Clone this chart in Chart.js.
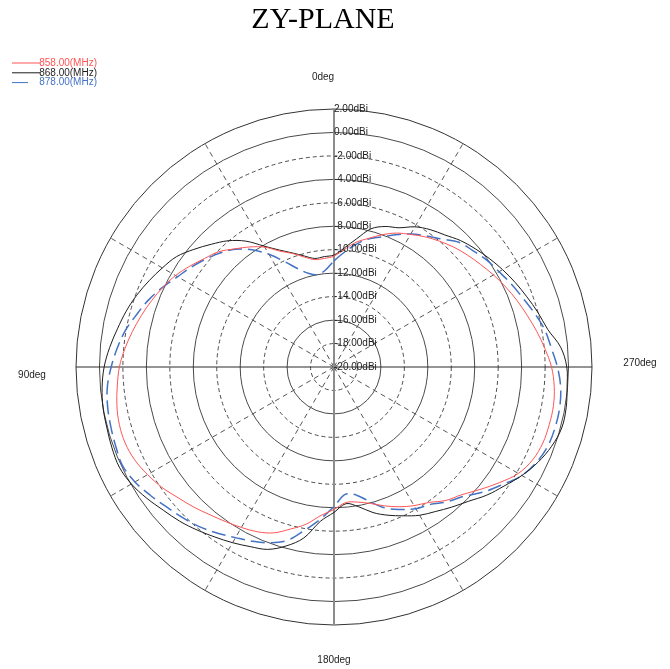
<!DOCTYPE html>
<html>
<head>
<meta charset="utf-8">
<title>ZY-PLANE</title>
<script src="https://cdn.jsdelivr.net/npm/chart.js@4/dist/chart.umd.min.js"></script>
<style>
  html, body { margin: 0; padding: 0; background: #fff; }
  canvas { display: block; }
</style>
</head>
<body>
<canvas id="draw" width="670" height="669"></canvas>
<script>
const chartTitle = "ZY-PLANE";

// angles of the plot, counter-clockwise from the top (0deg up, 90deg left)
const angleDeg = [0, 5, 10, 15, 20, 25, 30, 35, 40, 45, 50, 55, 60, 65, 70, 75, 80, 85,
	90, 95, 100, 105, 110, 115, 120, 125, 130, 135, 140, 145, 150, 155, 160, 165, 170, 175,
	180, 185, 190, 195, 200, 205, 210, 215, 220, 225, 230, 235, 240, 245, 250, 255, 260, 265,
	270, 275, 280, 285, 290, 295, 300, 305, 310, 315, 320, 325, 330, 335, 340, 345, 350, 355];

const seriesLabels = ["858.00(MHz)", "868.00(MHz)", "878.00(MHz)"];

// gain in dBi, one value per angle above
const gain858 = [-10.55, -10.7, -10.7, -10.3, -9.7, -9.1, -8.2, -7.5, -6.85, -6.1, -5.6, -5.0,
	-4.4, -3.9, -3.45, -3.0, -2.55, -2.1, -1.7, -1.45, -1.2, -1.05, -1.05, -1.25,
	-1.65, -2.1, -2.65, -3.1, -3.55, -3.9, -4.2, -4.5, -4.95, -5.7, -6.4, -7.3,
	-7.85, -8.4, -8.3, -7.95, -7.4, -6.85, -6.35, -5.9, -5.15, -4.6, -3.75, -2.8,
	-1.85, -1.3, -1.05, -1.0, -1.0, -1.15, -1.45, -1.95, -2.45, -2.95, -3.4, -3.85,
	-4.3, -4.75, -5.15, -5.55, -6.0, -6.45, -6.95, -7.4, -8.0, -8.65, -9.2, -9.95];

const gain868 = [-10.45, -10.55, -10.6, -10.2, -9.65, -9.0, -8.1, -6.9, -5.95, -5.2, -4.4, -3.6,
	-3.1, -2.6, -2.1, -1.65, -1.25, -0.8, -0.4, -0.15, 0.0, 0.05, 0.15, 0.2,
	-0.05, -0.5, -1.0, -1.4, -1.85, -2.3, -2.7, -3.1, -3.45, -4.2, -5.2, -6.8,
	-7.6, -8.3, -7.9, -7.15, -6.55, -6.0, -5.4, -4.95, -4.4, -3.8, -3.0, -2.3,
	-1.5, -0.8, -0.25, 0.1, 0.1, -0.05, -0.15, -0.6, -1.5, -2.0, -2.5, -2.95,
	-3.4, -3.85, -4.3, -4.75, -5.3, -5.7, -6.2, -6.9, -7.25, -7.8, -8.9, -9.8];

const gain878 = [-10.95, -11.7, -12.0, -11.75, -11.1, -10.1, -8.9, -7.8, -6.9, -6.25, -5.7, -5.15,
	-4.6, -3.9, -3.2, -2.6, -1.95, -1.45, -1.0, -0.6, -0.4, -0.3, -0.2, -0.1,
	-0.4, -0.9, -1.4, -1.8, -2.2, -2.7, -3.2, -3.6, -4.05, -4.7, -5.9, -7.0,
	-8.1, -9.1, -8.9, -8.1, -7.2, -6.6, -6.05, -5.7, -5.0, -4.4, -3.4, -2.5,
	-1.5, -0.9, -0.55, -0.45, -0.45, -0.6, -0.95, -1.4, -1.75, -2.3, -2.85, -3.3,
	-3.75, -4.1, -4.55, -4.95, -5.75, -6.35, -6.9, -7.55, -8.2, -8.7, -9.4, -10.2];

// radial axis
const gainMin = -20;
const gainMax = 2;
const gainStep = 2;
const ringLabels = [2, 0, -2, -4, -6, -8, -10, -12, -14, -16, -18, -20];
const dashedRings = [-2, -6, -10, -14, -18];
const directionLabels = ["0deg", "90deg", "180deg", "270deg"];

// radar runs clockwise, this plot runs counter-clockwise: index i -> angle (360 - i*5)
const n = angleDeg.length;
function angleAt(i) {
	return angleDeg[(n - i) % n];
}
function toRadar(series) {
	return angleDeg.map((a, i) => series[(n - i) % n]);
}

const colors = ["#ff5454", "#1c1c1c", "#4472c4"];
const dashes = [[], [], [14, 6]];
const gains = [gain858, gain868, gain878];

const datasets = seriesLabels.map((label, k) => ({
	label: label,
	data: toRadar(gains[k]),
	borderColor: colors[k],
	backgroundColor: "transparent",
	borderWidth: k === 2 ? 1.5 : 1,
	borderDash: dashes[k],
	fill: false,
	pointRadius: 0,
	pointHitRadius: 0,
	tension: 0.35,
}));

// title, legend, ring and direction labels
const polarText = {
	id: "polarText",
	afterDraw(chart) {
		const ctx = chart.ctx;
		const r = chart.scales.r;
		const cx = r.xCenter;
		const cy = r.yCenter;
		const R = r.drawingArea;
		ctx.save();

		ctx.fillStyle = "#000";
		ctx.font = '30px "Liberation Serif", "Times New Roman", serif';
		ctx.textAlign = "center";
		ctx.textBaseline = "alphabetic";
		ctx.fillText(chartTitle, 323, 28);

		ctx.font = '10px "Liberation Sans", Arial, sans-serif';
		ctx.textBaseline = "middle";
		ctx.fillStyle = "#222";
		ctx.textAlign = "left";
		ringLabels.forEach((v) => {
			const d = r.getDistanceFromCenterForValue(v);
			ctx.fillText(v.toFixed(2) + "dBi", cx, cy - d);
		});

		ctx.textAlign = "center";
		ctx.fillText(directionLabels[0], cx - 11, cy - R - 32);
		ctx.fillText(directionLabels[1], cx - R - 44, cy + 8);
		ctx.fillText(directionLabels[2], cx, cy + R + 35);
		ctx.fillText(directionLabels[3], cx + R + 48, cy - 4);

		// legend
		chart.data.datasets.forEach((ds, k) => {
			const y = 63 + k * 9.8;
			ctx.strokeStyle = ds.borderColor;
			ctx.lineWidth = 1;
			ctx.setLineDash(k === 2 ? [16, 8] : []);
			ctx.beginPath();
			ctx.moveTo(12, y);
			ctx.lineTo(k === 2 ? 36 : 40, y);
			ctx.stroke();
			ctx.fillStyle = ds.borderColor;
			ctx.textAlign = "right";
			ctx.fillText(ds.label, 97, y);
		});
		ctx.restore();
	},
};

const config = {
	type: "radar",
	data: {
		labels: angleDeg.map((a, i) => angleAt(i) + "deg"),
		datasets: datasets,
	},
	options: {
		responsive: false,
		animation: false,
		layout: {
			padding: { left: 76, right: 78, top: 109, bottom: 44 },
		},
		plugins: {
			legend: { display: false },
			title: { display: false },
			tooltip: { enabled: false },
		},
		scales: {
			r: {
				min: gainMin,
				max: gainMax,
				startAngle: 0,
				ticks: { display: false, stepSize: gainStep },
				pointLabels: { display: false },
				grid: {
					circular: true,
					color: (c) => (c.tick && c.tick.value === gainMax ? "#333" : "#4a4a4a"),
					lineWidth: 1,
				},
				border: {
					dash: (c) => (c.tick && dashedRings.includes(c.tick.value) ? [4, 3] : []),
				},
				angleLines: {
					display: true,
					color: (c) => {
						const a = angleAt(c.index);
						if (a === 0 || a === 180) return "#8c8c8c";
						if (a === 90 || a === 270) return "#2a2a2a";
						return "#555";
					},
					lineWidth: (c) => {
						const a = angleAt(c.index);
						if (a % 30 !== 0) return 0;
						return a === 0 || a === 180 ? 2 : 1;
					},
					borderDash: (c) => (angleAt(c.index) % 90 === 0 ? [] : [5, 4]),
				},
			},
		},
	},
	plugins: [polarText],
};

const myChart = new Chart(document.getElementById("draw").getContext("2d"), config);
</script>
</body>
</html>
